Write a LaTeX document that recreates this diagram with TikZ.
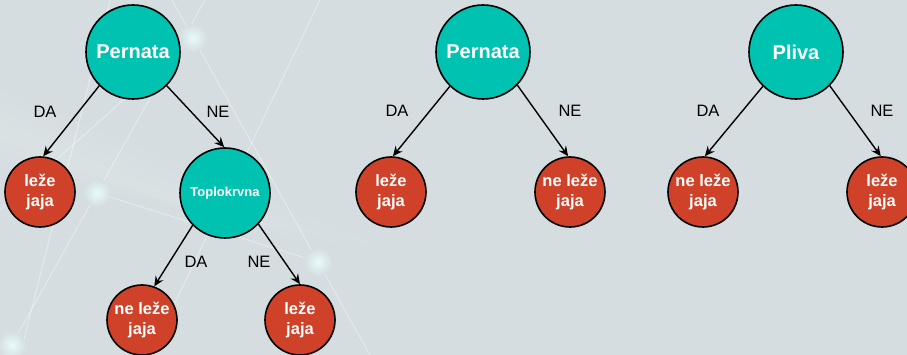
\documentclass[tikz,border=0pt]{standalone}
\usepackage{fontspec}
\setmainfont{Liberation Sans}
\usetikzlibrary{arrows.meta}
\definecolor{bgc}{HTML}{D5DDE1}
\definecolor{tealc}{HTML}{00C2B0}
\definecolor{redc}{HTML}{CF4128}
\definecolor{glowc}{HTML}{E8FBF9}
\tikzset{
  qnode/.style={circle,draw=black,line width=1.6pt,fill=tealc,text=white,font=\bfseries\fontsize{20}{22}\selectfont,minimum size=94pt,inner sep=0pt},
  qsmall/.style={qnode,minimum size=90pt,font=\bfseries\fontsize{13}{15}\selectfont},
  leaf/.style={circle,draw=black,line width=1.6pt,fill=redc,text=white,font=\bfseries\fontsize{16.5}{19.5}\selectfont,minimum size=70pt,inner sep=0pt,align=center},
  arr/.style={-{Stealth[length=10pt,width=9pt,inset=3.5pt]},line width=1.4pt,black},
  lbl/.style={font=\fontsize{16.5}{18}\selectfont,text=black,inner sep=0pt},
  bgline/.style={white,opacity=0.45,line width=0.8pt}
}
\begin{document}
\begin{tikzpicture}[x=1pt,y=-1pt]
\useasboundingbox (0,0) rectangle (907,355);
\fill[bgc] (0,0) rectangle (907,355);
% decorative background
\begin{scope}
\clip (0,0) rectangle (907,355);
\foreach \w/\e in {10/300,20/330,30/360,40/390}{
  \fill[white,opacity=0.035] (0,130-\w) -- (\e,250) -- (0,130+\w) -- cycle;
}
\draw[bgline] (110,0) -- (20,355);
\draw[bgline] (205,0) -- (6,355);
\draw[bgline] (172,0) -- (370,355);
\draw[bgline] (320,0) -- (150,355);
\draw[bgline] (0,210) -- (193,38);
\draw[bgline] (97,193) -- (318,262);
\foreach \p in {(193,38),(97,193),(12,345),(318,262)}{
  \shade[inner color=glowc,outer color=bgc] \p circle (14);
}
\end{scope}
% tree 1
\node[qnode] (p1) at (133,52) {Pernata};
\node[leaf] (l1) at (40,192) {leže\\jaja};
\node[qsmall] (t1) at (225,193) {Toplokrvna};
\node[leaf] (l2) at (142,320) {ne leže\\jaja};
\node[leaf] (l3) at (300,320) {leže\\jaja};
\draw[arr] (p1.225) -- (l1.85);
\draw[arr] (p1.-45) -- (t1.91);
\draw[arr] (t1.225) -- (l2.70);
\draw[arr] (t1.-43) -- (l3.90);
\node[lbl] (d1) at (45,112) {DA};
\node[lbl] (n1) at (218,112) {NE};
\node[lbl] (d2) at (196,262) {DA};
\node[lbl] (n2) at (259,262) {NE};
% tree 2
\node[qnode] (p2) at (483,52) {Pernata};
\node[leaf] (l4) at (391,192) {leže\\jaja};
\node[leaf] (l5) at (570,192) {ne leže\\jaja};
\draw[arr] (p2.226) -- (l4.87);
\draw[arr] (p2.-44) -- (l5.93);
\node[lbl] (d3) at (397,111) {DA};
\node[lbl] (n3) at (570,111) {NE};
% tree 3
\node[qnode] (p3) at (796,52) {Pliva};
\node[leaf] (l6) at (703,192) {ne leže\\jaja};
\node[leaf] (l7) at (882,192) {leže\\jaja};
\draw[arr] (p3.226) -- (l6.87);
\draw[arr] (p3.-45) -- (l7.92);
\node[lbl] (d4) at (708,111) {DA};
\node[lbl] (n4) at (882,111) {NE};
\end{tikzpicture}
\end{document}
